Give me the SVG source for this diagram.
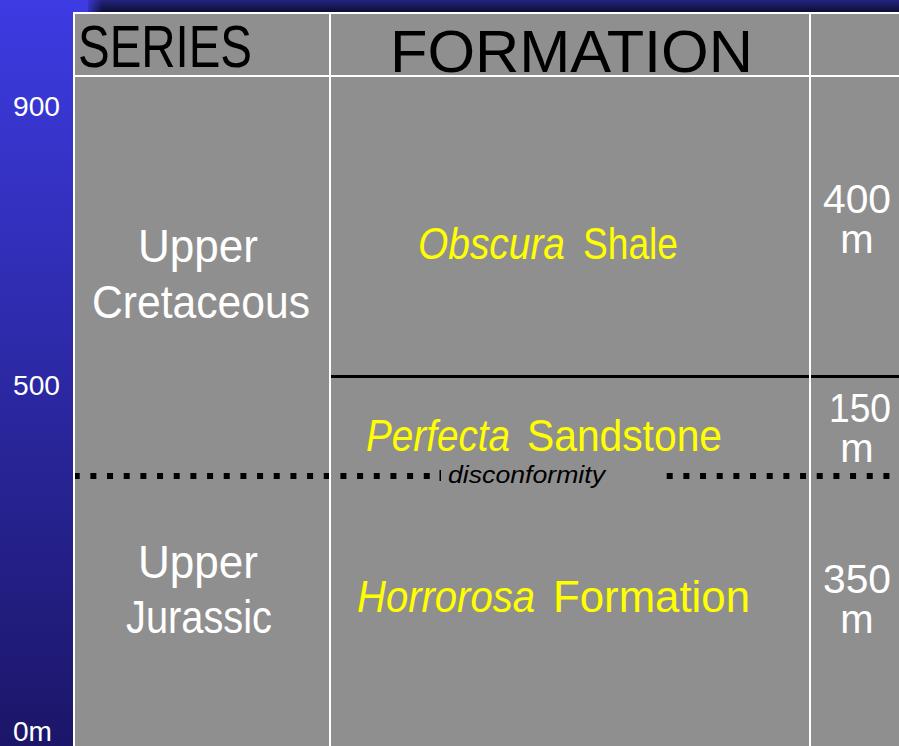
<svg xmlns="http://www.w3.org/2000/svg" width="899" height="746" viewBox="0 0 899 746">
<defs>
<linearGradient id="bg" x1="0" y1="0" x2="0" y2="1"><stop offset="0" stop-color="#3d3be2"/><stop offset="1" stop-color="#1b1668"/></linearGradient>
<linearGradient id="topband" x1="0" y1="0" x2="0" y2="1"><stop offset="0" stop-color="#24247c"/><stop offset="1" stop-color="#0e0e38"/></linearGradient>
<linearGradient id="fade" x1="0" y1="0" x2="1" y2="0"><stop offset="0" stop-color="#3d3be2" stop-opacity="1"/><stop offset="1" stop-color="#3d3be2" stop-opacity="0"/></linearGradient>
<style>
.t{font-family:"Liberation Sans",Arial,sans-serif}
.w{fill:#ffffff}
.y{fill:#ffff00;font-size:44px}
.i{font-style:italic}
.k{fill:#000000}
.cell{fill:#8f8f8f}
.grid{stroke:#ffffff;stroke-width:2;fill:none}
.dots{stroke:#000000;stroke-width:6;stroke-dasharray:6 10.67;fill:none}
.num{font-size:40px}
</style>
</defs>
<rect x="0" y="0" width="899" height="746" fill="url(#bg)"/>
<rect x="88" y="0" width="811" height="12" fill="url(#topband)"/>
<rect x="84" y="0" width="18" height="12" fill="url(#fade)"/>

<g id="table-body">
<rect class="cell" x="74" y="12" width="825" height="734"/>
</g>

<g id="connectors">
<line x1="330" y1="376.5" x2="899" y2="376.5" stroke="#000" stroke-width="3"/>
<line class="dots" x1="73.7" y1="476" x2="432" y2="476"/>
<rect x="439.5" y="470" width="1.5" height="11" fill="#000"/>
<line class="dots" x1="666.7" y1="476" x2="899" y2="476"/>
</g>

<g id="grid">
<line class="grid" x1="74" y1="13" x2="899" y2="13"/>
<line class="grid" x1="74" y1="76" x2="899" y2="76"/>
<line class="grid" x1="74" y1="12" x2="74" y2="746"/>
<line class="grid" x1="330" y1="12" x2="330" y2="746"/>
<line class="grid" x1="810" y1="12" x2="810" y2="746"/>
</g>

<g id="axis-900"><text class="t w" x="13" y="116" font-size="28" textLength="47" lengthAdjust="spacingAndGlyphs">900</text></g>
<g id="axis-500"><text class="t w" x="13" y="395" font-size="28" textLength="47" lengthAdjust="spacingAndGlyphs">500</text></g>
<g id="axis-0m"><text class="t w" x="13" y="741" font-size="28" textLength="39" lengthAdjust="spacingAndGlyphs">0m</text></g>

<g id="header-series"><text class="t k" x="78" y="67" font-size="60" textLength="174" lengthAdjust="spacingAndGlyphs">SERIES</text></g>
<g id="header-formation"><text class="t k" x="390" y="72" font-size="60" textLength="363" lengthAdjust="spacingAndGlyphs">FORMATION</text></g>
<g id="header-thickness"></g>

<g id="series-upper-cretaceous">
<text class="t w" x="138" y="262" font-size="46" textLength="120" lengthAdjust="spacingAndGlyphs">Upper</text>
<text class="t w" x="92" y="318" font-size="46" textLength="218" lengthAdjust="spacingAndGlyphs">Cretaceous</text>
</g>
<g id="series-upper-jurassic">
<text class="t w" x="138" y="578" font-size="46" textLength="120" lengthAdjust="spacingAndGlyphs">Upper</text>
<text class="t w" x="126" y="633" font-size="46" textLength="146" lengthAdjust="spacingAndGlyphs">Jurassic</text>
</g>

<g id="formation-obscura">
<text class="t y i" x="418" y="259" textLength="147" lengthAdjust="spacingAndGlyphs">Obscura</text>
<text class="t y" x="583" y="259" textLength="95" lengthAdjust="spacingAndGlyphs">Shale</text>
</g>
<g id="formation-perfecta">
<text class="t y i" x="366" y="451" textLength="144" lengthAdjust="spacingAndGlyphs">Perfecta</text>
<text class="t y" x="527" y="451" textLength="195" lengthAdjust="spacingAndGlyphs">Sandstone</text>
</g>
<g id="disconformity-label">
<text class="t k i" x="448" y="483" font-size="24" textLength="157" lengthAdjust="spacingAndGlyphs">disconformity</text>
</g>
<g id="formation-horrorosa">
<text class="t y i" x="357" y="612" textLength="178" lengthAdjust="spacingAndGlyphs">Horrorosa</text>
<text class="t y" x="553" y="612" textLength="197" lengthAdjust="spacingAndGlyphs">Formation</text>
</g>

<g id="thickness-400">
<text class="t w num" x="823" y="213" textLength="68" lengthAdjust="spacingAndGlyphs">400</text>
<text class="t w num" x="857" y="253" text-anchor="middle">m</text>
</g>
<g id="thickness-150">
<text class="t w num" x="829" y="422" textLength="62" lengthAdjust="spacingAndGlyphs">150</text>
<text class="t w num" x="857" y="462" text-anchor="middle">m</text>
</g>
<g id="thickness-350">
<text class="t w num" x="823" y="593" textLength="68" lengthAdjust="spacingAndGlyphs">350</text>
<text class="t w num" x="857" y="633" text-anchor="middle">m</text>
</g>
</svg>
